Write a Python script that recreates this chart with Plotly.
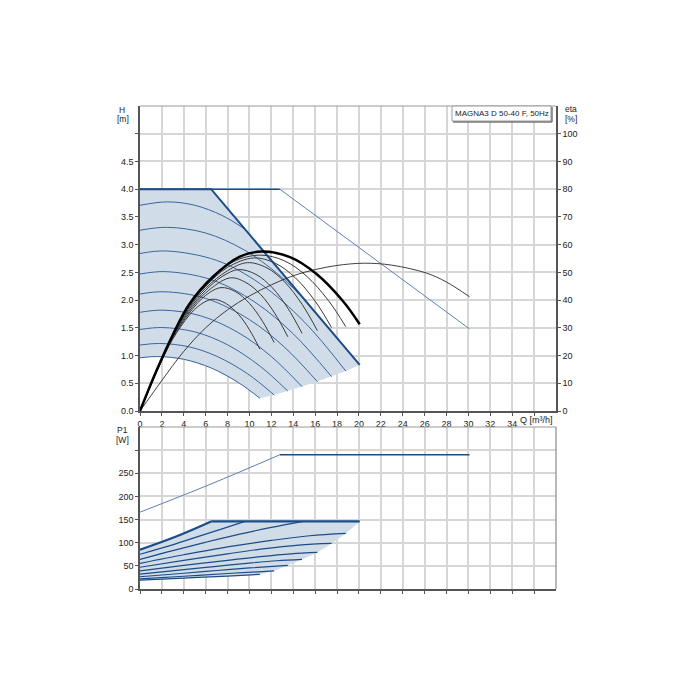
import plotly.graph_objects as go

# ---------------- axis ticks ----------------
Q_TICKS = list(range(0, 37, 2))
Q_TICKTEXT = [str(v) for v in range(0, 36, 2)] + [""]
Q_LABEL = "Q [m³/h]"
H_TICKS = [0.0, 0.5, 1.0, 1.5, 2.0, 2.5, 3.0, 3.5, 4.0, 4.5, 5.0]
H_TICKTEXT = ["0.0", "0.5", "1.0", "1.5", "2.0", "2.5", "3.0", "3.5", "4.0", "4.5", ""]
ETA_TICKS = [0, 10, 20, 30, 40, 50, 60, 70, 80, 90, 100]
P_TICKS = [0, 50, 100, 150, 200, 250, 300]
P_TICKTEXT = ["0", "50", "100", "150", "200", "250", ""]
LEGEND_TEXT = "MAGNA3 D 50-40 F, 50Hz"

# ---------------- H(Q) data ----------------
max_q = [0, 6.5, 20.07]
max_h = [4.0, 4.0, 0.83]
edge_q = [10.95, 12.25, 13.5, 14.8, 16.2, 17.5, 18.8, 20.07]
edge_h = [0.23, 0.29, 0.36, 0.44, 0.53, 0.62, 0.72, 0.83]

h1_q = [0, 1.6, 4, 6.5, 9, 10.95]
h1_h = [0.96, 0.982, 0.932, 0.776, 0.511, 0.23]
h2_q = [0, 1.8, 4.5, 7, 9.8, 12.25]
h2_h = [1.19, 1.218, 1.156, 0.988, 0.675, 0.29]
h3_q = [0, 2, 5, 8, 11, 13.5]
h3_h = [1.47, 1.505, 1.427, 1.193, 0.803, 0.36]
h4_q = [0, 2.1, 5.5, 9, 12, 14.8]
h4_h = [1.78, 1.818, 1.719, 1.411, 0.981, 0.44]
h5_q = [0, 2.2, 6, 10, 13.2, 16.2]
h5_h = [2.11, 2.15, 2.031, 1.647, 1.15, 0.53]
h6_q = [0, 2.3, 6.5, 10.5, 14, 17.5]
h6_h = [2.47, 2.513, 2.369, 1.962, 1.391, 0.62]
h7_q = [0, 2.4, 7, 11, 15, 18.8]
h7_h = [2.84, 2.886, 2.716, 2.292, 1.609, 0.72]
h8_q = [0, 2.5, 6, 9.5, 12.5, 14.8]
h8_h = [3.26, 3.312, 3.21, 2.907, 2.485, 2.06]
h9_q = [0, 2.5, 5, 7.5, 9.59]
h9_h = [3.71, 3.771, 3.71, 3.526, 3.278]

par_flat_q = [0, 12.77]
par_flat_h = [4.0, 4.0]
par_slope_q = [12.77, 30.1]
par_slope_h = [4.0, 1.48]

# ---------------- eta(Q) data [%] ----------------
eta_max_q = [0, 1.5, 3, 4.5, 6.69, 9.12, 11.1, 13.7, 16.1, 18.55, 20.07]
eta_max_v = [0, 14.5, 27.5, 38.5, 48.5, 55.7, 57.5, 55.5, 49.5, 39.6, 31.3]
e1_q = [0, 1.5, 3, 4.5, 5.5, 6.6, 7.8, 9, 10, 10.95]
e1_v = [0, 13.9, 26, 34.5, 38.3, 40.3, 38.9, 34.8, 29.3, 22.3]
e2_q = [0, 1.5, 3, 4.5, 6, 7.4, 8.7, 10, 11.2, 12.25]
e2_v = [0, 14, 26.3, 35.3, 41.7, 44.5, 43.1, 38.8, 32.3, 24.7]
e3_q = [0, 1.5, 3, 4.5, 6, 8.2, 9.6, 11, 12.3, 13.5]
e3_v = [0, 14.1, 26.6, 36, 42.6, 48, 46.5, 42.1, 35.3, 26.8]
e4_q = [0, 1.5, 3, 4.5, 6, 7.5, 9, 10.6, 12.1, 13.5, 14.8]
e4_v = [0, 14.2, 26.9, 36.7, 43.5, 48.5, 51, 49.25, 44.4, 37.1, 28]
e5_q = [0, 1.5, 3, 4.5, 6, 8, 9.8, 11.6, 13.2, 14.8, 16.2]
e5_v = [0, 14.3, 27.1, 37.3, 44.3, 50.6, 53.5, 51.6, 46.6, 38.5, 29]
e6_q = [0, 1.5, 3, 4.5, 6, 8, 10.4, 12.4, 14.2, 16, 17.5]
e6_v = [0, 14.4, 27.3, 37.8, 45, 51.8, 55.2, 53.2, 48, 39.6, 30.1]
e7_q = [0, 1.5, 3, 4.5, 6, 8.5, 11, 13.2, 15.2, 17.2, 18.8]
e7_v = [0, 14.4, 27.4, 38.2, 45.5, 53.8, 56.2, 54.15, 48.7, 39.9, 30.4]
epar_q = [0, 2, 4, 6, 8, 10, 12, 14, 16, 18, 20.5, 23, 26.2, 28, 30.1]
epar_v = [0, 11, 21.5, 30, 36.5, 41.5, 45.5, 48.8, 51, 52.5, 53.3, 52.6, 49.7, 46.5, 41.2]

# ---------------- P1(Q) data [W] ----------------
prise_q = [0, 3.3, 6.5]
prise_p = [85, 113.5, 146]
pflat_q = [6.5, 20.07]
pflat_p = [146, 146]
pedge_q = [10.95, 12.25, 13.5, 14.8, 16.2, 17.5, 18.8, 20.07]
pedge_p = [31.7, 39, 51, 64, 79, 98.5, 120, 146]
p1_q = [0, 4, 8, 10.95]
p1_p = [19, 23.5, 28, 31.7]
p2_q = [0, 4, 8, 12.25]
p2_p = [22, 27.5, 33.5, 39]
p3_q = [0, 4, 7, 10, 13.5]
p3_p = [26.5, 34, 40, 45.5, 51]
p4_q = [0, 4, 7, 10, 12.5, 14.8]
p4_p = [32.3, 42, 49, 56, 61, 64]
p5_q = [0, 4, 8, 11, 13.8, 16.2]
p5_p = [39, 51, 62, 70, 76, 79]
p6_q = [0, 4, 8, 11, 14.5, 17.5]
p6_p = [47, 62, 76, 86, 95, 98.5]
p7_q = [0, 4, 8, 12, 15.5, 18.8]
p7_p = [55.5, 74, 91, 105, 115, 120]
p8_q = [0, 3, 6, 9, 12, 14.8]
p8_p = [64, 83, 101, 118, 133, 145.5]
p9_q = [0, 2.5, 5, 7.5, 9.59]
p9_p = [75, 92, 111, 130, 146]
ppar_slope_q = [0, 6.4, 12.77]
ppar_slope_p = [166, 226, 290]
ppar_flat_q = [12.77, 30.1]
ppar_flat_p = [290, 290]

# ---------------- styles ----------------
FILL = "#d0dce8"
DARK_BLUE = "#1b4c88"
CURVE_BLUE = "#3a659d"
THIN_BLUE = "#5f80b6"
GRID = "#d6d6d6"
AXIS = "#555555"
FONT = "Liberation Sans, Arial, sans-serif"

fig = go.Figure()


def line(x, y, color, width, xa="x", ya="y", shape="spline"):
    fig.add_trace(go.Scatter(x=x, y=y, mode="lines", xaxis=xa, yaxis=ya,
                             line=dict(color=color, width=width, shape=shape,
                                       smoothing=1.0),
                             hoverinfo="skip", showlegend=False))


# ---- top chart ----
fill_q = h1_q + edge_q[1:] + max_q[::-1]
fill_h = h1_h + edge_h[1:] + max_h[::-1]
fig.add_trace(go.Scatter(x=fill_q, y=fill_h, mode="lines", fill="toself",
                         fillcolor=FILL, line=dict(width=0),
                         hoverinfo="skip", showlegend=False))

for qx, hy in [(h1_q, h1_h), (h2_q, h2_h), (h3_q, h3_h), (h4_q, h4_h),
               (h5_q, h5_h), (h6_q, h6_h), (h7_q, h7_h), (h8_q, h8_h),
               (h9_q, h9_h)]:
    line(qx, hy, CURVE_BLUE, 1)

line(par_slope_q, par_slope_h, THIN_BLUE, 1, shape="linear")
line(par_flat_q, par_flat_h, DARK_BLUE, 1.5, shape="linear")
line(max_q, max_h, DARK_BLUE, 2, shape="linear")

for qx, ev in [(e1_q, e1_v), (e2_q, e2_v), (e3_q, e3_v), (e4_q, e4_v),
               (e5_q, e5_v), (e6_q, e6_v), (e7_q, e7_v)]:
    line(qx, ev, "#3a3a3a", 1, ya="y2")
line(epar_q, epar_v, "#2a2a2a", 0.9, ya="y2")
line(eta_max_q, eta_max_v, "#000000", 2.5, ya="y2")

# ---- bottom chart ----
pfill_q = p1_q + pedge_q[1:] + pflat_q[::-1][1:] + prise_q[::-1][1:]
pfill_p = p1_p + pedge_p[1:] + pflat_p[::-1][1:] + prise_p[::-1][1:]
fig.add_trace(go.Scatter(x=pfill_q, y=pfill_p, mode="lines", fill="toself",
                         fillcolor=FILL, line=dict(width=0), xaxis="x2",
                         yaxis="y3", hoverinfo="skip", showlegend=False))
for qx, pv in [(p1_q, p1_p), (p2_q, p2_p), (p3_q, p3_p), (p4_q, p4_p),
               (p5_q, p5_p), (p6_q, p6_p), (p7_q, p7_p), (p8_q, p8_p),
               (p9_q, p9_p)]:
    line(qx, pv, DARK_BLUE, 1.2, xa="x2", ya="y3")
line(prise_q, prise_p, DARK_BLUE, 2.2, xa="x2", ya="y3")
line(pflat_q, pflat_p, DARK_BLUE, 2.2, xa="x2", ya="y3", shape="linear")
line(ppar_slope_q, ppar_slope_p, THIN_BLUE, 1, xa="x2", ya="y3")
line(ppar_flat_q, ppar_flat_p, DARK_BLUE, 1.5, xa="x2", ya="y3", shape="linear")

# ---------------- layout ----------------
# page has an 8px body margin; plot area must sit at x 140..556, y 106..589
OFF = 8
W = H = 700 - OFF
L, T = 140 - OFF, 106 - OFF
PW, PH = 556 - 140, 589 - 106
R, B = W - L - PW, H - T - PH
TOP_Y0 = (589 - 411) / PH
BOT_Y1 = (589 - 427) / PH


def px(x):
    return (x - 140) / PW


def py(y):
    return (589 - y) / PH


tickfont = dict(family=FONT, size=9, color="#222222")
common_x = dict(range=[0, 38], tickvals=Q_TICKS, showgrid=True, gridcolor=GRID,
                gridwidth=2, zeroline=False, showline=True, linecolor=AXIS,
                linewidth=1.5, ticks="outside", ticklen=3, tickcolor=AXIS,
                tickfont=tickfont, tickangle=0, fixedrange=True)
common_y = dict(showgrid=True, gridcolor=GRID, gridwidth=2, zeroline=False,
                showline=True, linecolor=AXIS, linewidth=1.5, ticks="outside",
                ticklen=3, tickcolor=AXIS, tickfont=tickfont)

fig.update_layout(
    width=W, height=H,
    margin=dict(l=L, r=R, t=T, b=B, pad=0),
    paper_bgcolor="white", plot_bgcolor="white",
    font=dict(family=FONT, size=9, color="#222222"),
    showlegend=False,
    xaxis=dict(common_x, domain=[0, 1], anchor="y", ticktext=Q_TICKTEXT),
    yaxis=dict(common_y, domain=[TOP_Y0, 1], anchor="x", range=[0, 5.5],
               tickvals=H_TICKS, ticktext=H_TICKTEXT),
    yaxis2=dict(overlaying="y", side="right", anchor="x", range=[0, 110],
                tickvals=ETA_TICKS, showgrid=False, zeroline=False,
                showline=True, linecolor=AXIS, linewidth=1.5, ticks="outside",
                ticklen=3, tickcolor=AXIS, tickfont=tickfont),
    xaxis2=dict(common_x, domain=[0, 1], anchor="y3", showticklabels=False),
    yaxis3=dict(common_y, domain=[0, BOT_Y1], anchor="x2", range=[0, 350],
                tickvals=P_TICKS, ticktext=P_TICKTEXT),
)

shapes = [
    dict(type="line", xref="paper", yref="paper", x0=0, x1=1, y0=1, y1=1,
         line=dict(color="#9a9a9a", width=1.2)),
    dict(type="line", xref="paper", yref="paper", x0=0, x1=1, y0=BOT_Y1,
         y1=BOT_Y1, line=dict(color="#9a9a9a", width=1.2)),
    dict(type="line", xref="paper", yref="paper", x0=1, x1=1, y0=0,
         y1=BOT_Y1, line=dict(color="#8a8a8a", width=1.2)),
    dict(type="rect", xref="paper", yref="paper", x0=px(452), x1=px(551),
         y0=py(121), y1=py(106), fillcolor="white",
         line=dict(color="#9a9a9a", width=1)),
    dict(type="line", xref="paper", yref="paper", x0=px(552), x1=px(552),
         y0=py(122), y1=py(107), line=dict(color="#777777", width=1.5)),
    dict(type="line", xref="paper", yref="paper", x0=px(453), x1=px(552),
         y0=py(122), y1=py(122), line=dict(color="#777777", width=1.5)),
]
fig.update_layout(shapes=shapes)

ann_font = dict(family=FONT, size=9, color="#222222")
annotations = [
    dict(text="H", x=px(122), y=py(109.5), size=8.5),
    dict(text="[m]", x=px(123), y=py(119), size=8.5),
    dict(text="eta", x=px(571), y=py(109), size=8.5),
    dict(text="[%]", x=px(571), y=py(119), size=8.5),
    dict(text="P1", x=px(122), y=py(429.5), size=8.5),
    dict(text="[W]", x=px(122), y=py(440), size=8.5),
    dict(text=Q_LABEL, x=px(536), y=py(420)),
    dict(text=LEGEND_TEXT, x=px(501.5), y=py(113.5), size=8),
]
for a in annotations:
    size = a.pop("size", 9)
    a.update(xref="paper", yref="paper", showarrow=False, xanchor="center",
             yanchor="middle", font=dict(ann_font, size=size))
fig.update_layout(annotations=annotations)

fig.write_html("out.html")
